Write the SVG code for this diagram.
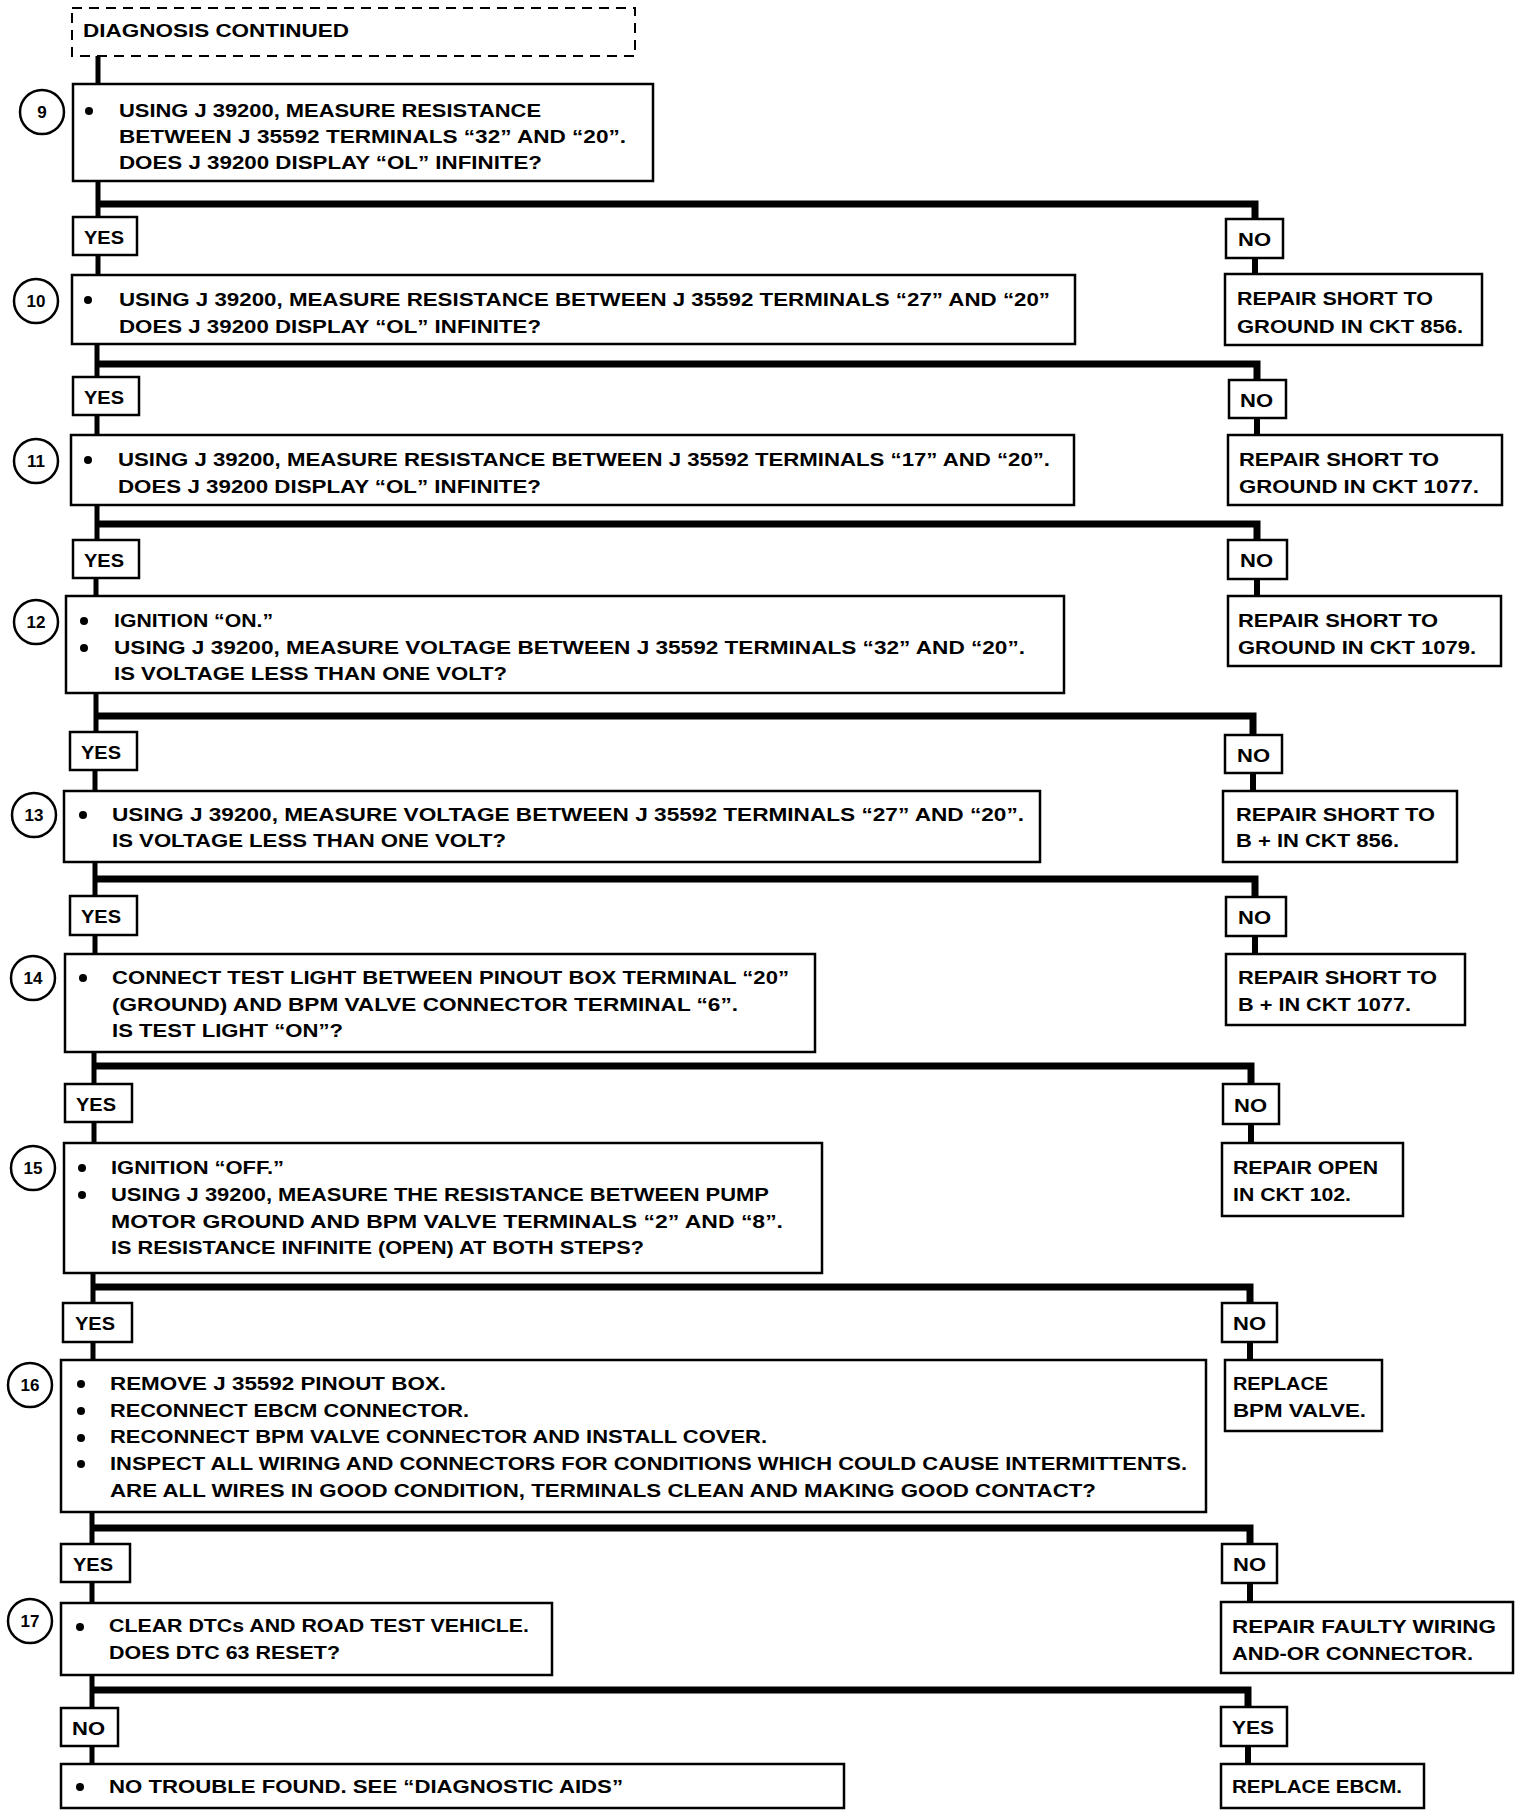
<svg xmlns="http://www.w3.org/2000/svg" width="1536" height="1818" viewBox="0 0 1536 1818">
<style>
.bx{fill:#fff;stroke:#000;stroke-width:2.5}
.lb{fill:#fff;stroke:#000;stroke-width:2.5}
.dash{fill:none;stroke:#000;stroke-width:2;stroke-dasharray:10 7}
.t{font-family:"Liberation Sans",Arial,sans-serif;font-weight:bold;font-size:18px;fill:#000}
.r{font-family:"Liberation Sans",Arial,sans-serif;font-weight:bold;font-size:18px;fill:#000}
.n{font-family:"Liberation Sans",Arial,sans-serif;font-weight:bold;font-size:17px;fill:#000;text-anchor:middle}
.c{fill:#fff;stroke:#000;stroke-width:2.5}
.v{fill:none;stroke:#000;stroke-width:5}
.bar{fill:none;stroke:#000;stroke-width:7;stroke-linejoin:miter}
.rv{fill:none;stroke:#000;stroke-width:6}
.dot{fill:#000}
</style>
<rect width="1536" height="1818" fill="#fff"/>
<g id="connectors">
<path class="v" d="M98 56V84M98 181V217M98 255V275M97 344V377M97 415V435M97 505V540M96 578V596M96 693V732M95 770V791M95 862V896M95 935V954M94 1052V1084M94 1122V1143M93 1273V1303M93 1342V1360M92 1512V1544M92 1582V1603M92 1675V1708M92 1746V1764"/>
<path class="bar" d="M96 204H1255V219"/>
<path class="bar" d="M95 364H1257V380"/>
<path class="bar" d="M95 524H1257V540"/>
<path class="bar" d="M94 716H1253V735"/>
<path class="bar" d="M93 879H1255V897"/>
<path class="bar" d="M92 1066H1251V1084"/>
<path class="bar" d="M91 1287H1250V1303"/>
<path class="bar" d="M90 1528H1250V1544"/>
<path class="bar" d="M90 1690H1248V1707"/>
<path class="rv" d="M1255 258V274M1257 418V435M1257 579V596M1253 773V791M1255 936V954M1251 1124V1143M1250 1342V1360M1250 1583V1602M1248 1746V1764"/>
</g>
<g id="header">
<rect class="dash" x="72" y="8" width="563" height="48"/>
<text class="t" x="83" y="37" textLength="266" lengthAdjust="spacingAndGlyphs">DIAGNOSIS CONTINUED</text>
</g>
<g id="step9">
<circle class="c" cx="42" cy="112" r="22"/><text class="n" x="42" y="118">9</text>
<rect class="bx" x="73" y="84" width="580" height="97"/>
<circle class="dot" cx="89" cy="111" r="4"/>
<text class="t" x="119" y="117" textLength="422" lengthAdjust="spacingAndGlyphs">USING J 39200, MEASURE RESISTANCE</text>
<text class="t" x="119" y="143" textLength="507" lengthAdjust="spacingAndGlyphs">BETWEEN J 35592 TERMINALS “32” AND “20”.</text>
<text class="t" x="119" y="169" textLength="423" lengthAdjust="spacingAndGlyphs">DOES J 39200 DISPLAY “OL” INFINITE?</text>
</g>
<g id="yes9"><rect class="lb" x="73" y="217" width="64" height="38"/><text class="t" x="84" y="244" textLength="40" lengthAdjust="spacingAndGlyphs">YES</text></g>
<g id="no9"><rect class="lb" x="1226" y="219" width="57" height="39"/><text class="r" x="1238" y="246" textLength="33" lengthAdjust="spacingAndGlyphs">NO</text></g>
<g id="step10">
<circle class="c" cx="36" cy="301" r="22"/><text class="n" x="36" y="307">10</text>
<rect class="bx" x="72" y="275" width="1003" height="69"/>
<circle class="dot" cx="88" cy="300" r="4"/>
<text class="t" x="119" y="306" textLength="931" lengthAdjust="spacingAndGlyphs">USING J 39200, MEASURE RESISTANCE BETWEEN J 35592 TERMINALS “27” AND “20”</text>
<text class="t" x="119" y="333" textLength="422" lengthAdjust="spacingAndGlyphs">DOES J 39200 DISPLAY “OL” INFINITE?</text>
</g>
<g id="r856">
<rect class="bx" x="1225" y="274" width="257" height="71"/>
<text class="r" x="1237" y="305" textLength="196" lengthAdjust="spacingAndGlyphs">REPAIR SHORT TO</text>
<text class="r" x="1237" y="333" textLength="226" lengthAdjust="spacingAndGlyphs">GROUND IN CKT 856.</text>
</g>
<g id="yes10"><rect class="lb" x="73" y="377" width="66" height="38"/><text class="t" x="84" y="404" textLength="40" lengthAdjust="spacingAndGlyphs">YES</text></g>
<g id="no10"><rect class="lb" x="1229" y="380" width="57" height="38"/><text class="r" x="1240" y="407" textLength="33" lengthAdjust="spacingAndGlyphs">NO</text></g>
<g id="step11">
<circle class="c" cx="36" cy="461" r="22"/><text class="n" x="36" y="467">11</text>
<rect class="bx" x="71" y="435" width="1003" height="70"/>
<circle class="dot" cx="88" cy="460" r="4"/>
<text class="t" x="118" y="466" textLength="932" lengthAdjust="spacingAndGlyphs">USING J 39200, MEASURE RESISTANCE BETWEEN J 35592 TERMINALS “17” AND “20”.</text>
<text class="t" x="118" y="493" textLength="423" lengthAdjust="spacingAndGlyphs">DOES J 39200 DISPLAY “OL” INFINITE?</text>
</g>
<g id="r1077">
<rect class="bx" x="1228" y="435" width="274" height="70"/>
<text class="r" x="1239" y="466" textLength="200" lengthAdjust="spacingAndGlyphs">REPAIR  SHORT TO</text>
<text class="r" x="1239" y="493" textLength="240" lengthAdjust="spacingAndGlyphs">GROUND IN CKT 1077.</text>
</g>
<g id="yes11"><rect class="lb" x="73" y="540" width="66" height="38"/><text class="t" x="84" y="567" textLength="40" lengthAdjust="spacingAndGlyphs">YES</text></g>
<g id="no11"><rect class="lb" x="1228" y="540" width="59" height="39"/><text class="r" x="1240" y="567" textLength="33" lengthAdjust="spacingAndGlyphs">NO</text></g>
<g id="step12">
<circle class="c" cx="36" cy="622" r="22"/><text class="n" x="36" y="628">12</text>
<rect class="bx" x="66" y="596" width="998" height="97"/>
<circle class="dot" cx="84" cy="621" r="4"/>
<circle class="dot" cx="84" cy="648" r="4"/>
<text class="t" x="114" y="627" textLength="159" lengthAdjust="spacingAndGlyphs">IGNITION “ON.”</text>
<text class="t" x="114" y="654" textLength="911" lengthAdjust="spacingAndGlyphs">USING J 39200, MEASURE VOLTAGE BETWEEN J 35592 TERMINALS “32” AND “20”.</text>
<text class="t" x="114" y="680" textLength="393" lengthAdjust="spacingAndGlyphs">IS VOLTAGE LESS THAN ONE VOLT?</text>
</g>
<g id="r1079">
<rect class="bx" x="1228" y="596" width="273" height="70"/>
<text class="r" x="1238" y="627" textLength="200" lengthAdjust="spacingAndGlyphs">REPAIR  SHORT TO</text>
<text class="r" x="1238" y="654" textLength="238" lengthAdjust="spacingAndGlyphs">GROUND IN CKT 1079.</text>
</g>
<g id="yes12"><rect class="lb" x="70" y="732" width="67" height="38"/><text class="t" x="81" y="759" textLength="40" lengthAdjust="spacingAndGlyphs">YES</text></g>
<g id="no12"><rect class="lb" x="1225" y="735" width="57" height="38"/><text class="r" x="1237" y="762" textLength="33" lengthAdjust="spacingAndGlyphs">NO</text></g>
<g id="step13">
<circle class="c" cx="34" cy="815" r="22"/><text class="n" x="34" y="821">13</text>
<rect class="bx" x="64" y="791" width="976" height="71"/>
<circle class="dot" cx="83" cy="815" r="4"/>
<text class="t" x="112" y="821" textLength="912" lengthAdjust="spacingAndGlyphs">USING J 39200, MEASURE VOLTAGE BETWEEN J 35592 TERMINALS “27” AND “20”.</text>
<text class="t" x="112" y="847" textLength="394" lengthAdjust="spacingAndGlyphs">IS VOLTAGE LESS THAN ONE VOLT?</text>
</g>
<g id="rb856">
<rect class="bx" x="1223" y="791" width="234" height="71"/>
<text class="r" x="1236" y="821" textLength="199" lengthAdjust="spacingAndGlyphs">REPAIR  SHORT TO</text>
<text class="r" x="1236" y="847" textLength="163" lengthAdjust="spacingAndGlyphs">B +  IN CKT 856.</text>
</g>
<g id="yes13"><rect class="lb" x="70" y="896" width="67" height="39"/><text class="t" x="81" y="923" textLength="40" lengthAdjust="spacingAndGlyphs">YES</text></g>
<g id="no13"><rect class="lb" x="1226" y="897" width="60" height="39"/><text class="r" x="1238" y="924" textLength="33" lengthAdjust="spacingAndGlyphs">NO</text></g>
<g id="step14">
<circle class="c" cx="33" cy="978" r="22"/><text class="n" x="33" y="984">14</text>
<rect class="bx" x="65" y="954" width="750" height="98"/>
<circle class="dot" cx="83" cy="978" r="4"/>
<text class="t" x="112" y="984" textLength="677" lengthAdjust="spacingAndGlyphs">CONNECT TEST LIGHT BETWEEN PINOUT BOX TERMINAL “20”</text>
<text class="t" x="112" y="1011" textLength="626" lengthAdjust="spacingAndGlyphs">(GROUND) AND BPM VALVE CONNECTOR TERMINAL “6”.</text>
<text class="t" x="112" y="1037" textLength="231" lengthAdjust="spacingAndGlyphs">IS TEST LIGHT “ON”?</text>
</g>
<g id="rb1077">
<rect class="bx" x="1226" y="954" width="239" height="71"/>
<text class="r" x="1238" y="984" textLength="199" lengthAdjust="spacingAndGlyphs">REPAIR  SHORT TO</text>
<text class="r" x="1238" y="1011" textLength="173" lengthAdjust="spacingAndGlyphs">B +  IN CKT 1077.</text>
</g>
<g id="yes14"><rect class="lb" x="65" y="1084" width="67" height="38"/><text class="t" x="76" y="1111" textLength="40" lengthAdjust="spacingAndGlyphs">YES</text></g>
<g id="no14"><rect class="lb" x="1223" y="1084" width="56" height="40"/><text class="r" x="1234" y="1112" textLength="33" lengthAdjust="spacingAndGlyphs">NO</text></g>
<g id="step15">
<circle class="c" cx="33" cy="1168" r="22"/><text class="n" x="33" y="1174">15</text>
<rect class="bx" x="64" y="1143" width="758" height="130"/>
<circle class="dot" cx="82" cy="1168" r="4"/>
<circle class="dot" cx="82" cy="1195" r="4"/>
<text class="t" x="111" y="1174" textLength="173" lengthAdjust="spacingAndGlyphs">IGNITION “OFF.”</text>
<text class="t" x="111" y="1201" textLength="658" lengthAdjust="spacingAndGlyphs">USING J 39200, MEASURE THE RESISTANCE BETWEEN PUMP</text>
<text class="t" x="111" y="1228" textLength="672" lengthAdjust="spacingAndGlyphs">MOTOR GROUND AND BPM VALVE TERMINALS “2” AND “8”.</text>
<text class="t" x="111" y="1254" textLength="533" lengthAdjust="spacingAndGlyphs">IS RESISTANCE INFINITE (OPEN) AT BOTH STEPS?</text>
</g>
<g id="r102">
<rect class="bx" x="1222" y="1143" width="181" height="73"/>
<text class="r" x="1233" y="1174" textLength="145" lengthAdjust="spacingAndGlyphs">REPAIR OPEN</text>
<text class="r" x="1233" y="1201" textLength="118" lengthAdjust="spacingAndGlyphs">IN CKT 102.</text>
</g>
<g id="yes15"><rect class="lb" x="63" y="1303" width="69" height="39"/><text class="t" x="75" y="1330" textLength="40" lengthAdjust="spacingAndGlyphs">YES</text></g>
<g id="no15"><rect class="lb" x="1222" y="1303" width="55" height="39"/><text class="r" x="1233" y="1330" textLength="33" lengthAdjust="spacingAndGlyphs">NO</text></g>
<g id="step16">
<circle class="c" cx="30" cy="1385" r="22"/><text class="n" x="30" y="1391">16</text>
<rect class="bx" x="61" y="1360" width="1145" height="152"/>
<circle class="dot" cx="81" cy="1384" r="4"/>
<circle class="dot" cx="81" cy="1411" r="4"/>
<circle class="dot" cx="81" cy="1438" r="4"/>
<circle class="dot" cx="81" cy="1464" r="4"/>
<text class="t" x="110" y="1390" textLength="336" lengthAdjust="spacingAndGlyphs">REMOVE J 35592 PINOUT BOX.</text>
<text class="t" x="110" y="1417" textLength="359" lengthAdjust="spacingAndGlyphs">RECONNECT EBCM CONNECTOR.</text>
<text class="t" x="110" y="1443" textLength="657" lengthAdjust="spacingAndGlyphs">RECONNECT BPM VALVE CONNECTOR AND INSTALL COVER.</text>
<text class="t" x="110" y="1470" textLength="1077" lengthAdjust="spacingAndGlyphs">INSPECT ALL WIRING AND CONNECTORS FOR CONDITIONS WHICH COULD CAUSE INTERMITTENTS.</text>
<text class="t" x="110" y="1497" textLength="986" lengthAdjust="spacingAndGlyphs">ARE ALL WIRES IN GOOD CONDITION, TERMINALS CLEAN AND MAKING GOOD CONTACT?</text>
</g>
<g id="rbpm">
<rect class="bx" x="1225" y="1360" width="157" height="71"/>
<text class="r" x="1233" y="1390" textLength="95" lengthAdjust="spacingAndGlyphs">REPLACE</text>
<text class="r" x="1233" y="1417" textLength="133" lengthAdjust="spacingAndGlyphs">BPM VALVE.</text>
</g>
<g id="yes16"><rect class="lb" x="61" y="1544" width="69" height="38"/><text class="t" x="73" y="1571" textLength="40" lengthAdjust="spacingAndGlyphs">YES</text></g>
<g id="no16"><rect class="lb" x="1222" y="1544" width="55" height="39"/><text class="r" x="1233" y="1571" textLength="33" lengthAdjust="spacingAndGlyphs">NO</text></g>
<g id="step17">
<circle class="c" cx="30" cy="1621" r="22"/><text class="n" x="30" y="1627">17</text>
<rect class="bx" x="61" y="1603" width="491" height="72"/>
<circle class="dot" cx="80" cy="1627" r="4"/>
<text class="t" x="109" y="1632" textLength="420" lengthAdjust="spacingAndGlyphs">CLEAR DTCs AND ROAD TEST VEHICLE.</text>
<text class="t" x="109" y="1659" textLength="231" lengthAdjust="spacingAndGlyphs">DOES DTC 63 RESET?</text>
</g>
<g id="rwiring">
<rect class="bx" x="1221" y="1602" width="292" height="71"/>
<text class="r" x="1232" y="1633" textLength="264" lengthAdjust="spacingAndGlyphs">REPAIR FAULTY WIRING</text>
<text class="r" x="1232" y="1660" textLength="241" lengthAdjust="spacingAndGlyphs">AND-OR CONNECTOR.</text>
</g>
<g id="no17"><rect class="lb" x="61" y="1708" width="57" height="38"/><text class="t" x="72" y="1735" textLength="33" lengthAdjust="spacingAndGlyphs">NO</text></g>
<g id="yes17"><rect class="lb" x="1221" y="1707" width="66" height="39"/><text class="r" x="1232" y="1734" textLength="42" lengthAdjust="spacingAndGlyphs">YES</text></g>
<g id="final">
<rect class="bx" x="61" y="1764" width="783" height="44"/>
<circle class="dot" cx="80" cy="1787" r="4"/>
<text class="t" x="109" y="1793" textLength="514" lengthAdjust="spacingAndGlyphs">NO TROUBLE FOUND. SEE “DIAGNOSTIC AIDS”</text>
</g>
<g id="rebcm">
<rect class="bx" x="1221" y="1764" width="203" height="44"/>
<text class="r" x="1232" y="1793" textLength="170" lengthAdjust="spacingAndGlyphs">REPLACE EBCM.</text>
</g>
</svg>
